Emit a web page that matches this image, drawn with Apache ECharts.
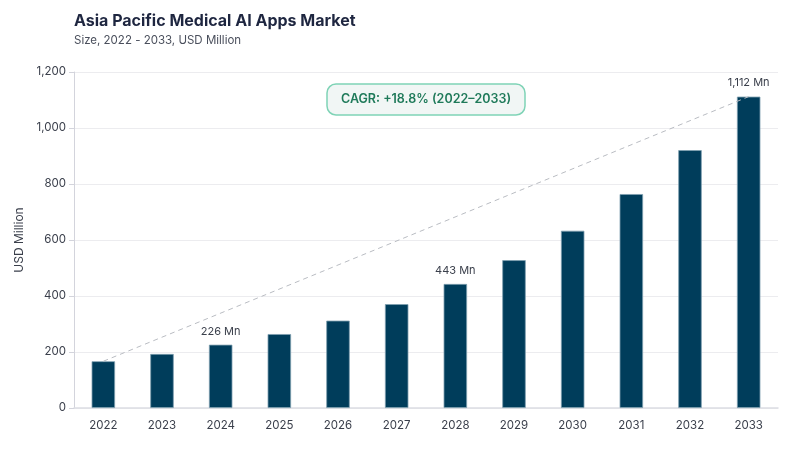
<!DOCTYPE html>
<html>
<head>
<meta charset="utf-8">
<script src="https://cdn.jsdelivr.net/npm/echarts@6/dist/echarts.min.js"></script>
<style>
  html, body { margin: 0; padding: 0; background: #fff; }
  #chart { width: 800px; height: 450px; }
</style>
</head>
<body>
<div id="chart"></div>
<script>
// data
const years = ['2022', '2023', '2024', '2025', '2026', '2027', '2028', '2029', '2030', '2031', '2032', '2033'];
const marketSize = [167, 193, 226, 264, 312, 371, 443, 528, 633, 764, 921, 1112];
const labelledYears = ['2024', '2028', '2033'];
const yTicks = { min: 0, max: 1200, interval: 200 };
const cagrText = 'CAGR: +18.8% (2022\u20132033)';

const fontFamily = 'Inter, "Noto Sans", sans-serif';

const barData = marketSize.map((v, i) => {
    const item = { value: v };
    if (labelledYears.includes(years[i])) {
        item.label = { show: true };
    }
    return item;
});

// trend line from first to last bar
const trendData = marketSize.map((v, i) => (i === 0 || i === marketSize.length - 1) ? v : null);

const chart = echarts.init(document.getElementById('chart'));
chart.setOption({
    animation: false,
    textStyle: { fontFamily },
    title: [
        {
            text: 'Asia Pacific Medical AI Apps Market',
            subtext: 'Size, 2022 - 2033, USD Million',
            left: 69, top: 8,
            itemGap: 6,
            textStyle: { fontSize: 16, fontWeight: 'bold', color: '#1e2640', fontFamily },
            subtextStyle: { fontSize: 11.5, color: '#4a4f5c', fontFamily }
        },
        {
            text: cagrText,
            left: 327, top: 84,
            padding: [9, 14, 9, 14],
            backgroundColor: '#f1f6f5',
            borderColor: '#7fd3b6',
            borderWidth: 1.5,
            borderRadius: 9,
            textStyle: { fontSize: 12.5, fontWeight: 600, color: '#1f7a5a', fontFamily }
        }
    ],
    grid: { left: 74, right: 22, top: 72, bottom: 42 },
    xAxis: {
        type: 'category',
        data: years,
        axisLine: { lineStyle: { color: '#dcdde3', width: 1.5 } },
        axisTick: { show: false },
        axisLabel: { color: '#3a3f4b', fontSize: 11.5, margin: 12 }
    },
    yAxis: {
        type: 'value',
        min: yTicks.min, max: yTicks.max, interval: yTicks.interval,
        name: 'USD Million',
        nameLocation: 'middle',
        nameGap: 46,
        nameTextStyle: { color: '#3a3f4b', fontSize: 12 },
        axisLine: { show: true, lineStyle: { color: '#d3d4dc' } },
        axisTick: { show: true, length: 5, lineStyle: { color: '#d3d4dc' } },
        axisLabel: {
            color: '#3a3f4b', fontSize: 11.5, margin: 8,
            formatter: v => v.toLocaleString('en-US')
        },
        splitLine: { lineStyle: { color: '#ececef' } }
    },
    series: [
        {
            type: 'bar',
            data: barData,
            barWidth: '40%',
            itemStyle: { color: '#003d5b', borderColor: '#7e9fb0', borderWidth: 0.8 },
            label: {
                show: false,
                position: 'top',
                distance: 8,
                color: '#3a3f4b',
                fontSize: 11,
                formatter: p => p.value.toLocaleString('en-US') + ' Mn'
            },
            z: 2
        },
        {
            type: 'line',
            data: trendData,
            connectNulls: true,
            symbol: 'none',
            lineStyle: { color: '#b9bcc2', width: 1, type: [5, 4] },
            z: 3
        }
    ]
});
</script>
</body>
</html>
